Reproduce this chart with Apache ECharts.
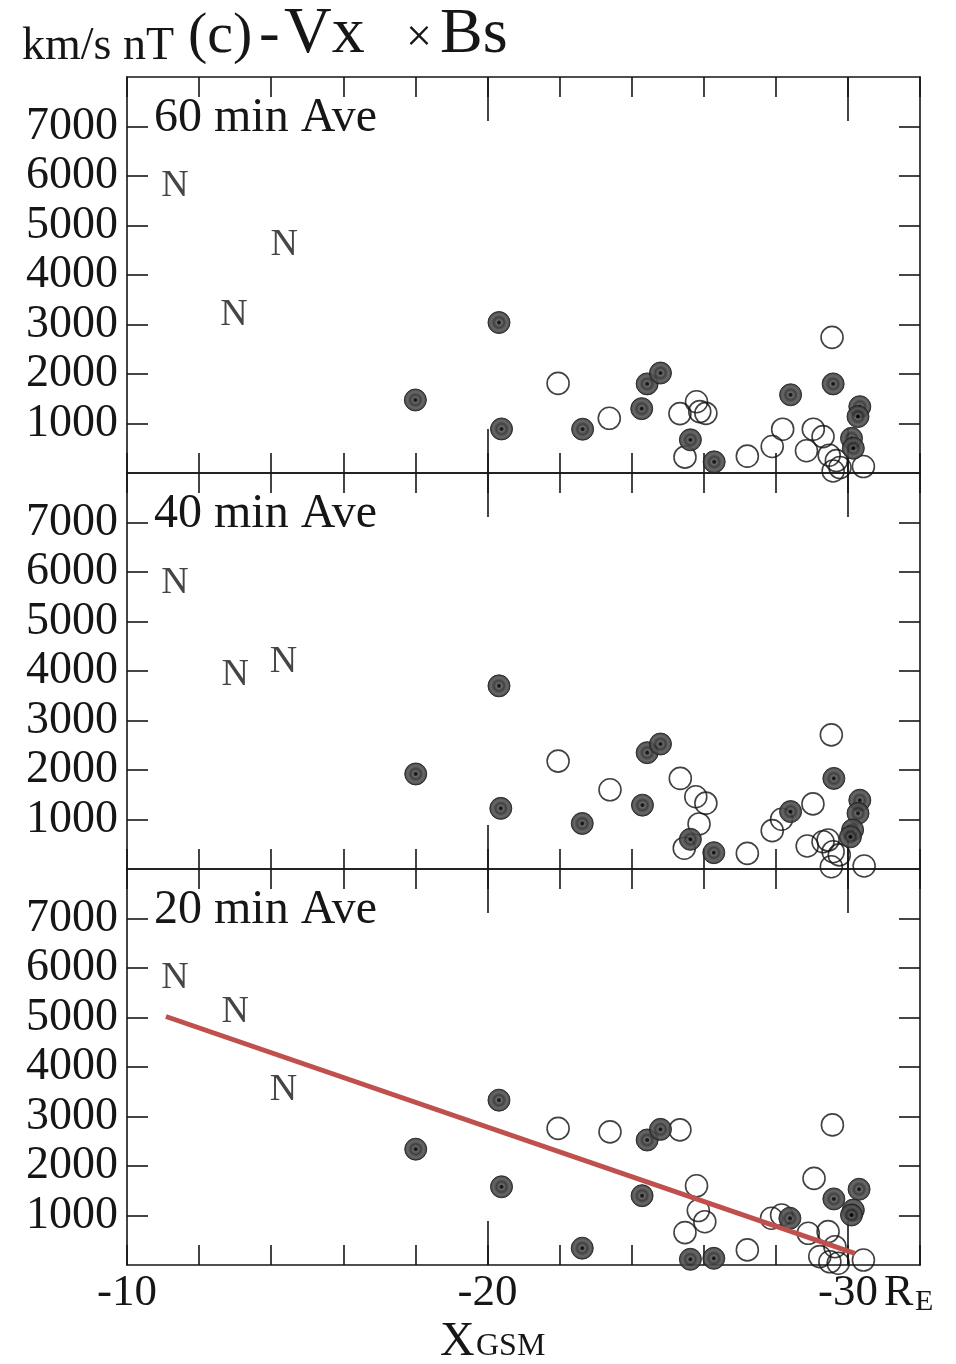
<!DOCTYPE html>
<html><head><meta charset="utf-8">
<script src="https://cdn.jsdelivr.net/npm/echarts@6/dist/echarts.min.js"></script>
<style>html,body{margin:0;padding:0;background:#fff;} #c{width:956px;height:1364px;}</style>
</head><body><div id="c"></div>
<script>
// ---------- data ----------
const panelLabels = ['60 min Ave', '40 min Ave', '20 min Ave'];
const yTickValues = [1000, 2000, 3000, 4000, 5000, 6000, 7000];
const xTickLabelValues = [-10, -20, -30];
const xMajorTickValues = [-20, -30];

// 60 min average
const n60 = [[-11.33, 5800], [-14.36, 4600], [-12.97, 3200]];
const filled60 = [[-18.0, 1475], [-20.32, 3040], [-20.39, 890], [-22.64, 885], [-24.28, 1300], [-24.43, 1800],
  [-24.80, 2020], [-25.63, 670], [-26.29, 225], [-28.41, 1580], [-29.59, 1800], [-30.33, 1340], [-30.28, 1140],
  [-30.10, 700], [-30.15, 500]];
const open60 = [[-21.96, 1810], [-23.38, 1105], [-25.34, 1200], [-25.80, 1440], [-25.89, 1240], [-26.06, 1205],
  [-25.48, 320], [-27.21, 340], [-27.90, 535], [-28.19, 885], [-29.04, 885], [-29.31, 735], [-28.85, 450],
  [-29.56, 2740], [-29.48, 360], [-29.68, 250], [-29.59, 40], [-29.78, 110], [-30.43, 130]];

// 40 min average
const n40 = [[-11.33, 5770], [-13.0, 3920], [-14.34, 4190]];
const filled40 = [[-18.01, 1920], [-20.32, 3700], [-20.37, 1225], [-22.63, 920], [-24.30, 1290], [-24.43, 2350],
  [-24.80, 2525], [-25.63, 600], [-26.28, 330], [-28.41, 1160], [-29.61, 1830], [-30.33, 1390], [-30.28, 1125],
  [-30.13, 790], [-30.07, 650]];
const open40 = [[-21.96, 2180], [-23.40, 1600], [-25.35, 1830], [-25.78, 1460], [-26.06, 1330], [-25.87, 910],
  [-25.46, 420], [-27.21, 315], [-27.90, 775], [-28.16, 1005], [-29.03, 1315], [-28.87, 465], [-29.31, 550],
  [-29.45, 585], [-29.54, 2710], [-29.59, 350], [-29.76, 285], [-29.54, 45], [-30.45, 60]];

// 20 min average
const n20 = [[-11.33, 5790], [-13.0, 5120], [-14.34, 3540]];
const filled20 = [[-18.01, 2340], [-20.32, 3330], [-20.39, 1580], [-22.63, 340], [-24.29, 1400], [-24.43, 2525],
  [-24.80, 2740], [-25.63, 115], [-26.28, 135], [-28.39, 945], [-29.61, 1335], [-30.31, 1530], [-30.15, 1110],
  [-30.10, 1010]];
const open20 = [[-21.96, 2760], [-23.40, 2690], [-25.34, 2730], [-25.80, 1600], [-25.85, 1100], [-26.03, 875],
  [-25.48, 655], [-27.21, 305], [-27.88, 945], [-28.16, 1010], [-29.06, 1750], [-28.90, 640], [-29.45, 675],
  [-29.64, 370], [-29.22, 170], [-29.50, 65], [-29.73, 35], [-29.57, 2830], [-30.43, 100]];
const fitLine20 = [[-11.08, 5020], [-30.19, 235]];

// ---------- chart ----------
const FONT = '"Liberation Serif","Times New Roman",serif';
const INK = '#161616';
const tops = [77, 473, 869];
const panels = [
  {n: n60, filled: filled60, open: open60},
  {n: n40, filled: filled40, open: open40},
  {n: n20, filled: filled20, open: open20, fit: fitLine20}
];
const lineStyle = {color: INK, width: 1.6};

const grids = tops.map(t => ({left: 127, right: 36, top: t, height: 396, outerBoundsMode: 'none'}));
const xAxes = [], yAxes = [], series = [];

tops.forEach((t, i) => {
  const base = {type: 'value', gridIndex: i, min: -32, max: -10, interval: 2, inverse: true,
    splitLine: {show: false}};
  xAxes.push(Object.assign({}, base, {
    position: 'bottom',
    axisLine: {show: true, onZero: false, lineStyle},
    axisTick: {show: true, inside: true, length: 20, lineStyle},
    axisLabel: {show: i === 2, interval: 0, hideOverlap: false, customValues: xTickLabelValues,
      formatter: v => xTickLabelValues.includes(v) ? String(v) : '',
      fontFamily: FONT, fontSize: 45, color: INK, margin: 6}
  }));
  xAxes.push(Object.assign({}, base, {
    position: 'bottom',
    axisLine: {show: false, onZero: false},
    axisTick: {show: true, inside: true, length: 44, customValues: xMajorTickValues, lineStyle},
    axisLabel: {show: false}
  }));
  xAxes.push(Object.assign({}, base, {
    position: 'top',
    axisLine: {show: true, onZero: false, lineStyle},
    axisTick: {show: true, inside: true, length: 20, lineStyle},
    axisLabel: {show: false}
  }));
  xAxes.push(Object.assign({}, base, {
    position: 'top',
    axisLine: {show: false, onZero: false},
    axisTick: {show: true, inside: true, length: 44, customValues: xMajorTickValues, lineStyle},
    axisLabel: {show: false}
  }));
  const ybase = {type: 'value', gridIndex: i, min: 0, max: 8000, interval: 1000, splitLine: {show: false}};
  yAxes.push(Object.assign({}, ybase, {
    position: 'left',
    axisLine: {show: true, onZero: false, lineStyle},
    axisTick: {show: true, inside: true, length: 21, customValues: yTickValues, lineStyle},
    axisLabel: {show: true, customValues: yTickValues, hideOverlap: false,
      formatter: v => yTickValues.includes(v) ? String(v) : '',
      fontFamily: FONT, fontSize: 46, color: INK, margin: 9}
  }));
  yAxes.push(Object.assign({}, ybase, {
    position: 'right',
    axisLine: {show: true, onZero: false, lineStyle},
    axisTick: {show: true, inside: true, length: 21, customValues: yTickValues, lineStyle},
    axisLabel: {show: false}
  }));

  const p = panels[i];
  const xi = i * 4, yi = i * 2;
  series.push({
    type: 'scatter', xAxisIndex: xi, yAxisIndex: yi, data: p.open, symbol: 'circle', symbolSize: 22,
    itemStyle: {color: 'rgba(255,255,255,0)', borderColor: '#111', borderWidth: 1.6}, z: 3
  });
  series.push({
    type: 'scatter', xAxisIndex: xi, yAxisIndex: yi, data: p.filled, symbol: 'circle', symbolSize: 22,
    itemStyle: {
      color: {type: 'radial', x: 0.5, y: 0.5, r: 0.5, colorStops: [
        {offset: 0, color: '#000'}, {offset: 0.12, color: '#000'}, {offset: 0.22, color: '#5a5a5a'},
        {offset: 0.45, color: '#2c2c2c'}, {offset: 0.7, color: '#585858'}, {offset: 1, color: '#2a2a2a'}]},
      opacity: 0.9, borderColor: '#222', borderWidth: 1
    }, z: 4
  });
  series.push({
    type: 'scatter', xAxisIndex: xi, yAxisIndex: yi, data: p.n, symbol: 'circle', symbolSize: 1,
    itemStyle: {color: 'rgba(0,0,0,0)'},
    label: {show: true, position: 'inside', formatter: 'N', fontFamily: FONT, fontSize: 38, color: INK,
      textBorderWidth: 0}, z: 5
  });
  if (p.fit) {
    series.push({
      type: 'line', xAxisIndex: xi, yAxisIndex: yi, data: p.fit, symbol: 'none', silent: true,
      lineStyle: {color: '#C0504D', width: 5}, z: 6
    });
  }
});

// text decorations (title, panel labels, axis units)
const graphics = [
  {type: 'text', x: 22, y: 47, style: {text: 'km/s nT', font: '46px ' + FONT, fill: INK, verticalAlign: 'middle'}},
  {type: 'text', x: 188, y: 37, style: {text: '(c)', font: '58px ' + FONT, fill: INK, verticalAlign: 'middle'}},
  {type: 'text', x: 259, y: 36, style: {text: '-', font: '62px ' + FONT, fill: INK, verticalAlign: 'middle'}},
  {type: 'text', x: 284, y: 35, style: {text: 'Vx', font: '66px ' + FONT, fill: INK, verticalAlign: 'middle'}},
  {type: 'text', x: 406, y: 39, style: {text: '×', font: '46px ' + FONT, fill: INK, verticalAlign: 'middle'}},
  {type: 'text', x: 440, y: 35, style: {text: 'Bs', font: '64px ' + FONT, fill: INK, verticalAlign: 'middle'}},
  {type: 'text', x: 884, y: 1293, style: {text: 'R', font: '44px ' + FONT, fill: INK, verticalAlign: 'middle'}},
  {type: 'text', x: 915, y: 1302, style: {text: 'E', font: '30px ' + FONT, fill: INK, verticalAlign: 'middle'}},
  {type: 'text', x: 440, y: 1342, style: {text: 'X', font: '48px ' + FONT, fill: INK, verticalAlign: 'middle'}},
  {type: 'text', x: 476, y: 1347, style: {text: 'GSM', font: '32px ' + FONT, fill: INK, verticalAlign: 'middle'}}
];
panelLabels.forEach((lab, i) => {
  graphics.push({type: 'text', x: 154, y: tops[i] + 41,
    style: {text: lab, font: '48px ' + FONT, fill: INK, verticalAlign: 'middle'}});
});

const chart = echarts.init(document.getElementById('c'), null, {renderer: 'canvas'});
chart.setOption({
  animation: false,
  backgroundColor: '#fff',
  grid: grids,
  xAxis: xAxes,
  yAxis: yAxes,
  series: series,
  graphic: graphics
});
</script>
</body></html>
